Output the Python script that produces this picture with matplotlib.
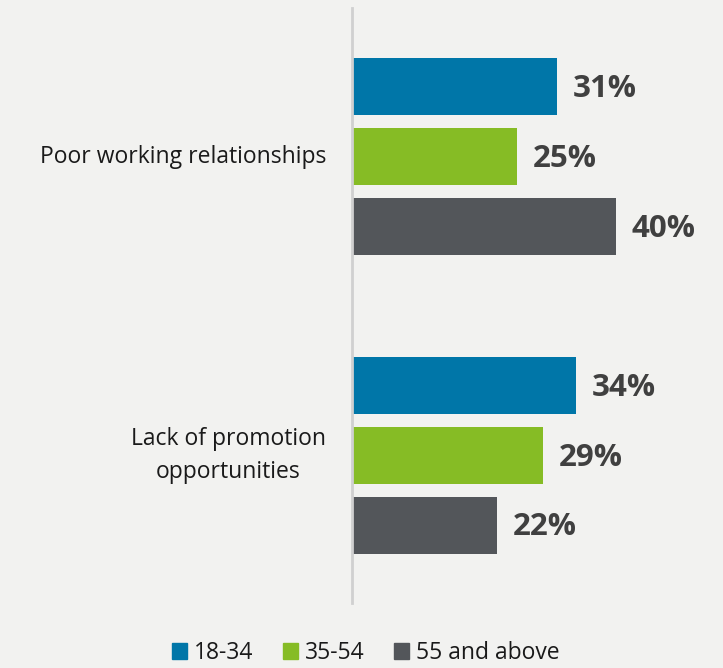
import numpy as np
import matplotlib
matplotlib.use("Agg")
import matplotlib.pyplot as plt
from matplotlib.patches import Patch

categories = ["Poor working relationships", "Lack of promotion\nopportunities"]
groups = ["18-34", "35-54", "55 and above"]
values = {
    "18-34": [31, 34],
    "35-54": [25, 29],
    "55 and above": [40, 22],
}
colors = ["#0076A8", "#86BC25", "#53565A"]

bg = "#F2F2F0"
plt.rcParams['font.family'] = ['Open Sans', 'DejaVu Sans']

fig = plt.figure(figsize=(7.23, 6.68), dpi=100, facecolor=bg)
ax = fig.add_axes([352 / 723, 1 - 603 / 668, 1 - 352 / 723, 595 / 668])
ax.set_facecolor(bg)

y = np.arange(len(categories))
step = 70 / 298.5
h = 57 / 298.5
for i, g in enumerate(groups):
    pos = y + (i - 1) * step
    ax.barh(pos, values[g], height=h, color=colors[i], label=g)
    for p, v in zip(pos, values[g]):
        ax.text(v + 2.4, p + 0.008, f"{v}%", va="center", ha="left",
                fontsize=22.5, fontweight="bold", color="#404040")

ax.set_xlim(0, 371 / 6.6)
ax.set_ylim(1 + 148 / 298.5, -149 / 298.5)
for s in ["top", "right", "bottom"]:
    ax.spines[s].set_visible(False)
ax.spines["left"].set_color("#D0D0D0")
ax.spines["left"].set_linewidth(2)
ax.set_xticks([])
ax.set_yticks([])

for c, lab in zip(y, categories):
    ax.text(-26 / 6.6, c, lab, ha="right", va="center", multialignment="center",
            fontsize=16.5, color="#1A1A1A", linespacing=1.5)

handles = [Patch(color=colors[i], label=g) for i, g in enumerate(groups)]
fig.legend(handles=handles, loc="center", bbox_to_anchor=(366 / 723, 1 - 653 / 668),
           ncol=3, frameon=False, fontsize=16.5, handlelength=0.65, handleheight=0.65,
           handletextpad=0.3, columnspacing=1.3, labelcolor="#1A1A1A",
           borderpad=0.1)

fig.savefig("out.png", dpi=100, facecolor=bg)
